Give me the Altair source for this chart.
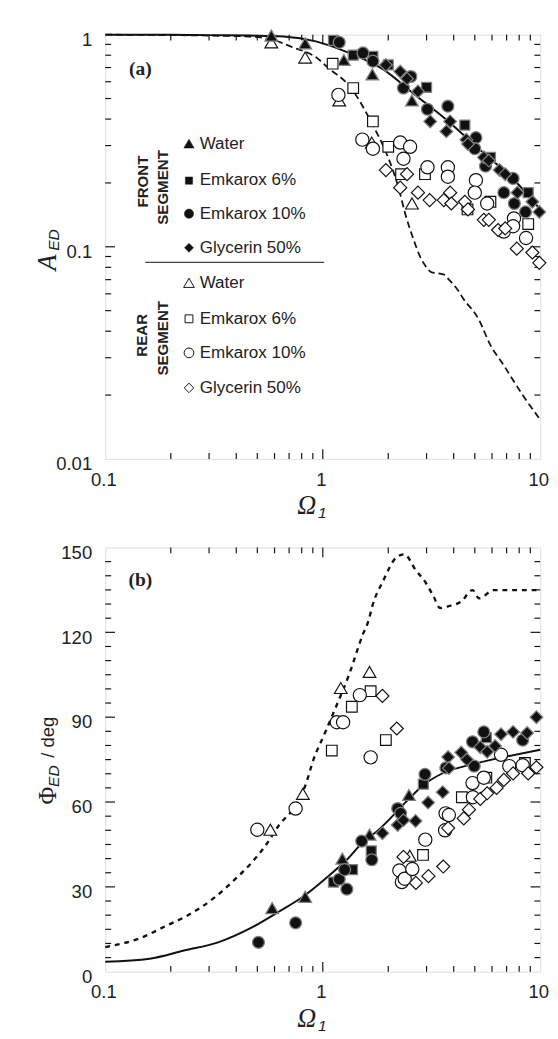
import altair as alt
import pandas as pd

W, H = 447, 436

# ---------------- panel (a): amplitude A_ED (log-log) ----------------
a_front_theory_x = [0.1, 0.2, 0.3, 0.46, 0.66, 0.93, 1.32, 1.88, 2.66, 3.78, 5.33, 7.6, 10]
a_front_theory_y = [1.0, 1.0, 0.995, 0.99, 0.98, 0.93, 0.82, 0.69, 0.52, 0.39, 0.284, 0.206, 0.15]
a_rear_theory_x = [0.1, 0.2, 0.3, 0.46, 0.58, 0.73, 0.935, 1.07, 1.27, 1.42, 1.57, 1.72, 1.88, 2.05,
                   2.23, 2.39, 2.6, 2.8, 3.0, 3.15, 3.4, 3.6, 3.8, 4.2, 4.4, 5.2, 5.9, 6.75, 8.3, 10]
a_rear_theory_y = [1.0, 0.995, 0.99, 0.98, 0.95, 0.87, 0.78, 0.69, 0.60, 0.52, 0.436, 0.365, 0.305, 0.246,
                   0.19, 0.144, 0.11, 0.09, 0.08, 0.076, 0.075, 0.074, 0.07, 0.062, 0.0575, 0.0457, 0.0344,
                   0.0279, 0.02, 0.0153]

a_fw_x = [0.58, 0.83, 1.25, 1.69, 2.57]
a_fw_y = [0.99, 0.91, 0.76, 0.65, 0.49]
a_fe6_x = [1.12, 1.38, 1.70, 2.0, 3.0, 4.5, 5.9, 8.8]
a_fe6_y = [0.94, 0.80, 0.79, 0.72, 0.565, 0.375, 0.264, 0.18]
a_fe10_x = [1.19, 1.53, 1.70, 2.54, 2.35, 3.03, 3.76, 5.06, 5.0, 5.6, 7.5, 6.8, 7.6, 8.55]
a_fe10_y = [0.92, 0.82, 0.75, 0.635, 0.56, 0.445, 0.46, 0.327, 0.29, 0.24, 0.21, 0.18, 0.16, 0.146]
a_fg_x = [1.95, 2.27, 2.44, 2.74, 3.12, 3.85, 3.7, 4.57, 4.65, 5.5, 5.8, 6.5, 6.9, 7.85, 9.2, 9.9]
a_fg_y = [0.72, 0.67, 0.62, 0.54, 0.39, 0.39, 0.35, 0.32, 0.305, 0.264, 0.255, 0.23, 0.22, 0.18, 0.163, 0.146]

a_rw_x = [0.58, 0.83, 1.19, 1.68, 2.57]
a_rw_y = [0.92, 0.78, 0.49, 0.31, 0.16]
a_re6_x = [1.11, 1.38, 1.70, 2.0, 2.29, 2.95, 4.63, 5.9, 8.8]
a_re6_y = [0.73, 0.56, 0.39, 0.296, 0.22, 0.22, 0.15, 0.163, 0.128]
a_re10_x = [1.18, 1.52, 1.70, 2.27, 2.52, 2.35, 3.03, 3.76, 3.76, 5.06, 5.0, 5.7, 7.57, 6.8, 7.5, 8.6]
a_re10_y = [0.52, 0.32, 0.29, 0.31, 0.296, 0.26, 0.237, 0.237, 0.214, 0.206, 0.18, 0.16, 0.136, 0.118, 0.125, 0.11]
a_rg_x = [1.95, 2.27, 2.44, 2.74, 3.1, 3.6, 3.85, 3.9, 4.5, 4.65, 5.5, 5.8, 6.4, 6.9, 7.8, 9.2, 9.9]
a_rg_y = [0.23, 0.19, 0.22, 0.18, 0.166, 0.166, 0.18, 0.16, 0.163, 0.15, 0.134, 0.134, 0.12, 0.122, 0.098, 0.094, 0.084]

# ---------------- panel (b): phase Phi_ED (deg) ----------------
b_front_theory_x = [0.1, 0.16, 0.23, 0.33, 0.47, 0.63, 0.81, 1.05, 1.32, 1.56, 1.77, 2.49, 2.9, 3.52, 4.97, 7.0, 10]
b_front_theory_y = [3.5, 4.6, 7.5, 10.4, 15.6, 21.3, 26.5, 33.5, 40.4, 46.5, 49.6, 61.1, 66.0, 70.0, 73.5, 76.1, 78.5]
b_rear_theory_x = [0.1, 0.147, 0.19, 0.235, 0.315, 0.39, 0.47, 0.55, 0.63, 0.75, 0.83, 0.906, 1.02, 1.13,
                   1.32, 1.52, 1.63, 1.68, 1.90, 2.18, 2.37, 2.68, 2.96, 3.23, 3.46, 3.77, 4.33, 4.88,
                   5.23, 6.1, 10]
b_rear_theory_y = [8.7, 12.1, 16.2, 19.6, 26, 32.3, 38.5, 45, 51.9, 58.8, 65.7, 75, 84.2, 92.3,
                   105, 118.8, 124.6, 128.6, 138.4, 146.5, 147.6, 141.9, 137.8, 132.7, 128.6, 129.2,
                   130.9, 134.9, 132, 134.9, 134.9]

b_fw_x = [0.585, 0.83, 1.23, 1.64, 2.49]
b_fw_y = [22.5, 26.5, 40, 48.5, 62.5]
b_fe6_x = [1.12, 1.37, 1.67, 2.9, 5.65]
b_fe6_y = [31.7, 36.1, 42.7, 66.3, 82.8]
b_fe10_x = [0.506, 0.75, 1.19, 1.26, 1.29, 1.51, 1.68, 2.21, 2.28, 2.95, 3.68, 4.88, 4.97, 5.5, 8.3]
b_fe10_y = [10.4, 17.3, 32.7, 36.1, 29.2, 46.2, 39.6, 57.7, 56, 69.8, 72.1, 81.3, 72.7, 84.8, 81.9]
b_fg_x = [1.88, 2.21, 2.35, 2.67, 3.05, 3.56, 3.77, 3.8, 4.33, 4.6, 5.3, 5.7, 6.2, 6.6, 7.5, 8.7, 9.6]
b_fg_y = [49, 51.9, 53.6, 53.3, 59.8, 63.5, 75.9, 72, 77.5, 75, 79.4, 77.8, 79.8, 84, 84.8, 84.4, 90]

b_rw_x = [0.574, 0.81, 1.21, 1.64, 2.51]
b_rw_y = [50.2, 62.9, 100.3, 106, 41]
b_re6_x = [1.10, 1.36, 1.66, 1.95, 2.89, 4.36, 5.65, 8.5]
b_re6_y = [78.2, 93.7, 99.2, 81.9, 41.3, 61.7, 68.6, 73.8]
b_re10_x = [0.50, 0.75, 1.16, 1.24, 1.48, 1.66, 2.25, 2.31, 2.38, 2.58, 2.96, 3.65, 3.67, 3.8, 4.88,
            4.9, 5.5, 6.6, 7.2, 8.3]
b_re10_y = [50.2, 57.7, 88.2, 88.2, 97.8, 75.8, 35.8, 31.7, 32.9, 36.3, 46.7, 50, 56, 55.4, 66.7,
            61.7, 68.6, 76.7, 72.7, 73]
b_rg_x = [1.88, 2.19, 2.35, 2.68, 3.06, 3.58, 3.77, 4.45, 4.7, 5.3, 5.7, 6.3, 6.8, 7.5, 8.8, 9.6]
b_rg_y = [97.5, 86, 40.6, 31.4, 33.8, 37.2, 50.8, 54.2, 57.3, 61.1, 63.1, 65, 67.8, 70.1, 70.1, 72.3]

# axis tick positions / labels
x_labels = [0.1, 1, 10]
x_minor = [0.2, 0.3, 0.4, 0.5, 0.6, 0.7, 0.8, 0.9, 2, 3, 4, 5, 6, 7, 8, 9]
x_major_inner = [1]
a_y_labels = [0.01, 0.1, 1]
a_y_minor = [0.02, 0.03, 0.04, 0.05, 0.06, 0.07, 0.08, 0.09, 0.2, 0.3, 0.4, 0.5, 0.6, 0.7, 0.8, 0.9]
a_y_major_inner = [0.1]
b_y_labels = [0, 30, 60, 90, 120, 150]
b_y_minor = [5, 10, 15, 20, 25, 35, 40, 45, 50, 55, 65, 70, 75, 80, 85, 95, 100, 105, 110, 115,
             125, 130, 135, 140, 145]
b_y_major_inner = [30, 60, 90, 120]

legend_names = ["Water", "Emkarox 6%", "Emkarox 10%", "Glycerin 50%"]
shapes = ["triangle-up", "square", "circle", "diamond"]

INK = "#111111"
LAB = "Liberation Sans"
one = pd.DataFrame({"k": [0]})


def make_x():
    return alt.X("x:Q", scale=alt.Scale(type="log", domain=[0.1, 10], nice=False),
                 axis=alt.Axis(values=x_labels, format="~g", title=None, labelFont=LAB,
                               labelFontSize=19, labelColor="#222", labelPadding=12,
                               labelOffset=-2, ticks=False, tickSize=0, domain=False,
                               grid=False, labelFlush=False, labelOverlap=False))


def make_y(log, dom, labels, fmt):
    sc = alt.Scale(type="log", domain=dom, nice=False) if log else alt.Scale(domain=dom, nice=False)
    return alt.Y("y:Q", scale=sc,
                 axis=alt.Axis(values=labels, format=fmt, title=None, labelFont=LAB,
                               labelFontSize=19, labelColor="#222", labelPadding=14,
                               labelOffset=5, ticks=False, tickSize=0, domain=False,
                               grid=False, labelOverlap=False))


def line(xs, ys, X, Y, dash=None, width=2.0):
    df = pd.DataFrame({"x": xs, "y": ys, "o": list(range(len(xs)))})
    kw = dict(color=INK, strokeWidth=width, interpolate="monotone")
    if dash:
        kw["strokeDash"] = dash
    return alt.Chart(df).mark_line(**kw).encode(x=X, y=Y, order="o:Q")


SIZES_F = {"triangle-up": 170, "square": 105, "circle": 150, "diamond": 170}
SIZES_O = {"triangle-up": 170, "square": 120, "circle": 185, "diamond": 180}


def pts(xs, ys, shape, filled, X, Y):
    df = pd.DataFrame({"x": xs, "y": ys})
    if filled:
        m = alt.Chart(df).mark_point(shape=shape, filled=True, fill=INK, stroke="#808080",
                                     strokeWidth=1.3, size=SIZES_F[shape], opacity=1)
    else:
        m = alt.Chart(df).mark_point(shape=shape, filled=True, fill="white", stroke=INK,
                                     strokeWidth=1.2, size=SIZES_O[shape], opacity=1)
    return m.encode(x=X, y=Y)


def ticks(X, Y, xmin, xmaj, ymin, ymaj):
    layers = []
    for vals, ln in ((xmin, 6), (xmaj, 10)):
        df = pd.DataFrame({"x": vals})
        layers.append(alt.Chart(df).mark_rule(color=INK, strokeWidth=1.2).encode(
            x=X, y=alt.value(H), y2=alt.value(H - ln)))
        layers.append(alt.Chart(df).mark_rule(color=INK, strokeWidth=1.2).encode(
            x=X, y=alt.value(0), y2=alt.value(ln)))
    for vals, ln in ((ymin, 6), (ymaj, 10)):
        df = pd.DataFrame({"y": vals})
        layers.append(alt.Chart(df).mark_rule(color=INK, strokeWidth=1.2).encode(
            y=Y, x=alt.value(0), x2=alt.value(ln)))
        layers.append(alt.Chart(df).mark_rule(color=INK, strokeWidth=1.2).encode(
            y=Y, x=alt.value(W), x2=alt.value(W - ln)))
    return layers


def txt(s, x, y, size, font=LAB, style="normal", weight="normal", angle=0, align="center",
        color="#222"):
    kw = dict(text=s, fontSize=size, font=font, fontStyle=style, fontWeight=weight,
              align=align, baseline="middle", color=color)
    if angle:
        kw["angle"] = angle
    return alt.Chart(one).mark_text(**kw).encode(x=alt.value(x), y=alt.value(y))


def omega_title():
    return [txt("Ω", 207, 485, 27, font="Liberation Serif", style="italic"),
            txt("1", 223, 492, 16, style="italic")]


# ---------------- build panel (a) ----------------
Xa = make_x()
Ya = make_y(True, [0.01, 1], a_y_labels, "~g")
la = []
la += ticks(Xa, Ya, x_minor, x_major_inner, a_y_minor, a_y_major_inner)
la.append(line(a_front_theory_x, a_front_theory_y, Xa, Ya))
la.append(line(a_rear_theory_x, a_rear_theory_y, Xa, Ya, dash=[7, 4], width=1.8))
for xs, ys, sh in ((a_rw_x, a_rw_y, shapes[0]), (a_re6_x, a_re6_y, shapes[1]),
                   (a_re10_x, a_re10_y, shapes[2]), (a_rg_x, a_rg_y, shapes[3])):
    la.append(pts(xs, ys, sh, False, Xa, Ya))
for xs, ys, sh in ((a_fw_x, a_fw_y, shapes[0]), (a_fe6_x, a_fe6_y, shapes[1]),
                   (a_fe10_x, a_fe10_y, shapes[2]), (a_fg_x, a_fg_y, shapes[3])):
    la.append(pts(xs, ys, sh, True, Xa, Ya))

# legend inside panel (a)
LEG_F = {"triangle-up": 110, "square": 55, "circle": 90, "diamond": 85}
front_rows = [112, 150, 184, 219]
rear_rows = [255, 292, 327, 363]
for name, sh, yy in zip(legend_names, shapes, front_rows):
    la.append(alt.Chart(one).mark_point(shape=sh, filled=True, fill=INK, stroke=INK,
                                        strokeWidth=0.5, size=LEG_F[sh], opacity=1).encode(
        x=alt.value(86), y=alt.value(yy)))
    la.append(txt(name, 97, yy, 17.5, align="left"))
for name, sh, yy in zip(legend_names, shapes, rear_rows):
    la.append(alt.Chart(one).mark_point(shape=sh, filled=True, fill="white", stroke=INK,
                                        strokeWidth=1, size=LEG_F[sh] + 10, opacity=1).encode(
        x=alt.value(86), y=alt.value(yy)))
    la.append(txt(name, 97, yy, 17.5, align="left"))
la.append(alt.Chart(one).mark_rule(color="#444", strokeWidth=1.2).encode(
    x=alt.value(41), x2=alt.value(225), y=alt.value(234)))
la.append(txt("FRONT", 39, 151, 15.5, weight="bold", angle=270))
la.append(txt("SEGMENT", 59, 157, 15.5, weight="bold", angle=270))
la.append(txt("REAR", 38, 309, 15.5, weight="bold", angle=270))
la.append(txt("SEGMENT", 59, 312, 15.5, weight="bold", angle=270))
la.append(txt("(a)", 36, 35, 20, font="Liberation Serif", weight="bold"))
# axis titles
la += omega_title()
la.append(txt("A", -59, 234, 27, font="Liberation Serif", style="italic", angle=270))
la.append(txt("ED", -53, 211, 16, style="italic", angle=270))

panel_a = alt.layer(*la).properties(width=W, height=H)

# ---------------- build panel (b) ----------------
Xb = make_x()
Yb = make_y(False, [0, 150], b_y_labels, "d")
lb = []
lb += ticks(Xb, Yb, x_minor, x_major_inner, b_y_minor, b_y_major_inner)
lb.append(line(b_front_theory_x, b_front_theory_y, Xb, Yb))
lb.append(line(b_rear_theory_x, b_rear_theory_y, Xb, Yb, dash=[5, 5], width=2.4))
for xs, ys, sh in ((b_rw_x, b_rw_y, shapes[0]), (b_re6_x, b_re6_y, shapes[1]),
                   (b_re10_x, b_re10_y, shapes[2]), (b_rg_x, b_rg_y, shapes[3])):
    lb.append(pts(xs, ys, sh, False, Xb, Yb))
for xs, ys, sh in ((b_fw_x, b_fw_y, shapes[0]), (b_fe6_x, b_fe6_y, shapes[1]),
                   (b_fe10_x, b_fe10_y, shapes[2]), (b_fg_x, b_fg_y, shapes[3])):
    lb.append(pts(xs, ys, sh, True, Xb, Yb))
lb.append(txt("(b)", 36, 34, 20, font="Liberation Serif", weight="bold"))
lb += omega_title()
lb.append(txt("Φ", -59, 255, 25, font="Liberation Serif", angle=270))
lb.append(txt("ED", -53, 235, 16, style="italic", angle=270))
lb.append(txt("/ deg", -59, 195, 19, angle=270))

panel_b = alt.layer(*lb).properties(width=W, height=H)

chart = alt.vconcat(panel_a, panel_b, spacing=21).properties(
    padding={"left": 26, "top": 5, "right": 0, "bottom": 0}
).configure_view(stroke=INK, strokeWidth=2).configure(background="white")

chart.save("out.html", embed_options={"renderer": "svg", "actions": False})
